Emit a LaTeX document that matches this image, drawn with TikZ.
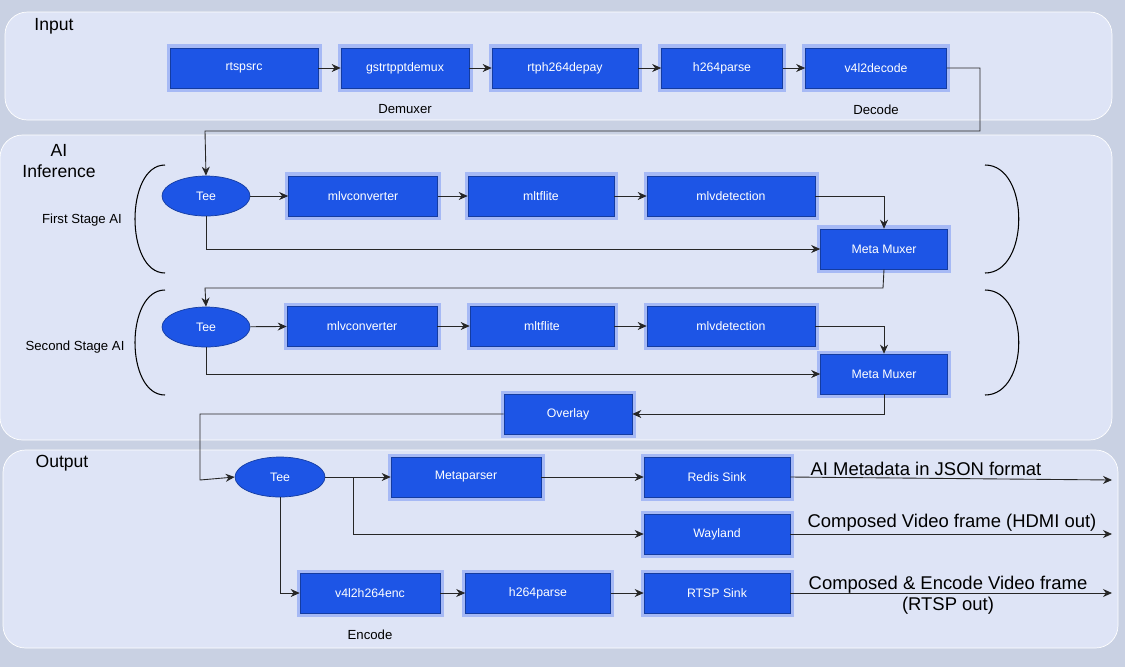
\documentclass[tikz,border=0pt]{standalone}
\usepackage{fontspec}
\setmainfont{Liberation Sans}
\usetikzlibrary{arrows.meta,positioning,shapes.geometric}
\tikzset{>={Stealth[width=1.6mm,length=1.8mm]}}
\definecolor{bgc}{HTML}{C9D1E3}
\definecolor{panel}{HTML}{DEE4F6}
\definecolor{boxc}{HTML}{1D55E6}
\definecolor{glow}{HTML}{8FA8F5}
\tikzset{
  blk/.style = {draw=boxc!70!black, fill=boxc, text=white, font=\fontsize{7}{8}\selectfont,
    minimum height=0.8cm, inner sep=0pt,
    preaction={draw=glow, line width=4pt, opacity=0.7}},
  tee/.style = {ellipse, draw=boxc!70!black, fill=boxc, text=white, font=\fontsize{7}{8}\selectfont,
    minimum width=1.76cm, minimum height=0.8cm, inner sep=0pt},
  pnl/.style = {fill=panel, draw=white, rounded corners=0.45cm},
  lbl/.style = {font=\fontsize{7.5}{9}\selectfont},
  sect/.style = {font=\fontsize{10}{12}\selectfont, align=center},
  outl/.style = {font=\fontsize{10.5}{12}\selectfont, align=center},
  flow/.style = {->, black!85, line width=0.5pt},
  brk/.style = {black, line width=0.6pt}
}
\begin{document}
\begin{tikzpicture}[x=0.02cm, y=-0.02cm]
\fill[bgc] (0,0) rectangle (1125,667);
\useasboundingbox (0,0) rectangle (1125,667);
% panels
\draw[pnl] (5,12) rectangle (1112,120);
\draw[pnl] (0,135) rectangle (1112,440);
\draw[pnl] (3,450) rectangle (1118,648);
\node[sect] (tin) at (54,26) {Input};
\node[sect] (tai) at (59,161) {AI\\Inference};
\node[sect] (tout) at (62,463) {Output};
% input chain
\node[blk, minimum width=2.96cm] (src) at (244,68) {rtspsrc};
\node[blk, minimum width=2.56cm] (demux) at (405,68) {gstrtpptdemux};
\node[blk, minimum width=2.92cm] (depay) at (565,68) {rtph264depay};
\node[blk, minimum width=2.42cm] (parse) at (722,68) {h264parse};
\node[blk, minimum width=2.82cm] (dec) at (876,68) {v4l2decode};
\node[lbl, below=0.2cm of demux] {Demuxer};
\node[lbl, below=0.2cm of dec] {Decode};
\draw[flow] (src) -- (demux);
\draw[flow] (demux) -- (depay);
\draw[flow] (depay) -- (parse);
\draw[flow] (parse) -- (dec);
% first stage
\node[tee] (tee1) at (206,196) {Tee};
\node[blk, minimum width=2.98cm] (conv1) at (363,196) {mlvconverter};
\node[blk, minimum width=2.92cm] (tfl1) at (541,196) {mltflite};
\node[blk, minimum width=3.36cm] (det1) at (731,196) {mlvdetection};
\node[blk, minimum width=2.54cm] (mux1) at (884,249) {Meta Muxer};
\node[lbl] (fs) at (82,220) {First Stage AI};
\draw[flow] (dec.east) -- (980,68) -- (980,131) -- (205,131) -- (tee1.north);
\draw[flow] (tee1) -- (conv1);
\draw[flow] (conv1) -- (tfl1);
\draw[flow] (tfl1) -- (det1);
\draw[flow] (det1.east) -| (mux1.north);
\draw[flow] (tee1.south) |- (mux1.west);
\draw[brk] (165,165) .. controls (125,165) and (125,273) .. (165,273);
\draw[brk] (985,165) .. controls (1030,165) and (1030,273) .. (985,273);
% second stage
\node[tee] (tee2) at (206,327) {Tee};
\node[blk, minimum width=3cm] (conv2) at (362,326) {mlvconverter};
\node[blk, minimum width=2.88cm] (tfl2) at (542,326) {mltflite};
\node[blk, minimum width=3.36cm] (det2) at (731,326) {mlvdetection};
\node[blk, minimum width=2.54cm] (mux2) at (884,374) {Meta Muxer};
\node[lbl] (ss) at (75,347) {Second Stage AI};
\draw[flow] (mux1.south) -- (883,288) -- (205,288) -- (tee2.north);
\draw[flow] (tee2) -- (conv2);
\draw[flow] (conv2) -- (tfl2);
\draw[flow] (tfl2) -- (det2);
\draw[flow] (det2.east) -| (mux2.north);
\draw[flow] (tee2.south) |- (mux2.west);
\draw[brk] (165,290) .. controls (125,290) and (125,395) .. (165,395);
\draw[brk] (985,290) .. controls (1030,290) and (1030,395) .. (985,395);
% overlay
\node[blk, minimum width=2.56cm] (ovl) at (568,414) {Overlay};
\draw[flow] (mux2.south) |- (ovl.east);
% output
\node[tee, minimum width=1.8cm] (tee3) at (280,477) {Tee};
\node[blk, minimum width=3cm] (mpar) at (466,477) {Metaparser};
\node[blk, minimum width=2.92cm] (redis) at (717,477) {Redis Sink};
\node[blk, minimum width=2.92cm] (wl) at (717,534) {Wayland};
\node[blk, minimum width=2.8cm] (enc) at (370,593) {v4l2h264enc};
\node[blk, minimum width=2.9cm] (parse2) at (538,593) {h264parse};
\node[blk, minimum width=2.92cm] (rtsp) at (717,593) {RTSP Sink};
\node[lbl, below=0.2cm of enc] {Encode};
\coordinate (e1) at (1112,480);
\coordinate (e2) at (1112,534);
\coordinate (e3) at (1112,593);
\coordinate (br) at (353,477);
\draw[flow] (ovl.west) -- (200,414) -- (200,480) -- (tee3.west);
\draw[flow] (tee3) -- (mpar);
\draw[flow] (mpar) -- (redis);
\draw[flow] (br) |- (wl.west);
\draw[flow] (tee3.south) |- (enc.west);
\draw[flow] (enc) -- (parse2);
\draw[flow] (parse2) -- (rtsp);
\draw[flow] (redis.east) -- (e1);
\draw[flow] (wl.east) -- (e2);
\draw[flow] (rtsp.east) -- (e3);
\node[outl] at (926,469) {AI Metadata in JSON format};
\node[outl] at (952,523) {Composed Video frame (HDMI out)};
\node[outl] at (948,595) {Composed \& Encode Video frame\\(RTSP out)};
\end{tikzpicture}
\end{document}
